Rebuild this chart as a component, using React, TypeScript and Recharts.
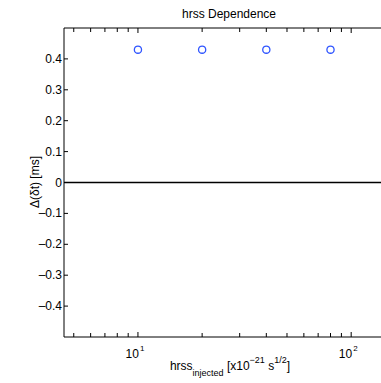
import { ScatterChart, Scatter, XAxis, YAxis, ReferenceLine } from 'recharts';

const HRSS = [10, 20, 40, 80];
const DELTA_T = [0.43, 0.43, 0.43, 0.43];
const X_TICKS = [5, 6, 7, 8, 9, 10, 20, 30, 40, 50, 60, 70, 80, 90, 100];
const X_MAJOR = [10, 100];
const Y_TICKS = [-0.4, -0.3, -0.2, -0.1, 0, 0.1, 0.2, 0.3, 0.4];

const W = 381;
const H = 383;
const TOP = 28;
const BOTTOM = 46;
const LEFT = 64;
const PLOT_H = H - TOP - BOTTOM;

const FONT = 'Arial, "Liberation Sans", sans-serif';

const points = HRSS.map((h, i) => ({ x: h, y: DELTA_T[i] }));

const fmtY = (v: number) => {
  if (v === 0) return '0';
  const s = Math.abs(v).toFixed(1);
  return v < 0 ? '\u2013' + s : s;
};

// bottom ticks point up into the plot; the matching top ticks are drawn here too
const BottomTick = (props: any) => {
  const { x, y, payload } = props;
  const major = X_MAJOR.includes(payload.value);
  const len = major ? 5 : 4;
  return (
    <g>
      <line x1={x} x2={x} y1={y} y2={y - len} stroke="#000" />
      <line x1={x} x2={x} y1={y - PLOT_H} y2={y - PLOT_H + len} stroke="#000" />
      {major && (
        <text x={x - 3} y={y + 21} textAnchor="middle" fontSize={12} fontFamily={FONT} fill="#000">
          10
          <tspan dx={1} dy={-7} fontSize={8}>
            {Math.round(Math.log10(payload.value))}
          </tspan>
        </text>
      )}
    </g>
  );
};

const LeftTick = (props: any) => {
  const { x, y, payload } = props;
  return (
    <g>
      <line x1={x} x2={x + 4} y1={y} y2={y} stroke="#000" />
      <text x={x - 2} y={y + 4} textAnchor="end" fontSize={12} fontFamily={FONT} fill="#000">
        {fmtY(payload.value)}
      </text>
    </g>
  );
};

const Ring = (props: any) => (
  <circle cx={props.cx} cy={props.cy} r={3.6} fill="none" stroke="#2f55ff" strokeWidth={1.3} />
);

export default function App() {
  return (
    <div style={{ position: 'absolute', left: 0, top: 0, width: W, height: H, background: '#fff' }}>
      <ScatterChart width={W} height={H} margin={{ top: 0, right: 0, bottom: 0, left: 0 }}>
        <XAxis
          dataKey="x"
          type="number"
          scale="log"
          domain={[4.5, 138]}
          allowDataOverflow
          ticks={X_TICKS}
          interval={0}
          height={BOTTOM}
          tickSize={0}
          tickMargin={0}
          tick={<BottomTick />}
          axisLine={{ stroke: '#000' }}
          tickLine={false}
          label={{
            position: 'bottom',
            content: () => (
              <text x={230} y={370} textAnchor="middle" fontSize={12} fontFamily={FONT} fill="#000">
                hrss
                <tspan dy={6} fontSize={9}>injected</tspan>
                <tspan dy={-6}> [x10</tspan>
                <tspan dy={-7} fontSize={9}>{'\u221221'}</tspan>
                <tspan dy={7}> s</tspan>
                <tspan dy={-7} fontSize={9}>1/2</tspan>
                <tspan dy={7}>]</tspan>
              </text>
            ),
          }}
        />
        <XAxis
          xAxisId="top"
          orientation="top"
          type="number"
          scale="log"
          domain={[4.5, 138]}
          allowDataOverflow
          height={TOP}
          tick={false}
          axisLine={{ stroke: '#000' }}
          tickLine={false}
        />
        <YAxis
          dataKey="y"
          type="number"
          domain={[-0.5, 0.5]}
          allowDataOverflow
          ticks={Y_TICKS}
          interval={0}
          width={LEFT}
          tickSize={0}
          tickMargin={0}
          tick={<LeftTick />}
          axisLine={{ stroke: '#000' }}
          tickLine={false}
          label={{
            position: 'left',
            content: () => (
              <text
                x={39}
                y={182}
                transform="rotate(-90 39 182)"
                textAnchor="middle"
                fontSize={12}
                fontFamily={FONT}
                fill="#000"
              >
                {'\u0394(\u03b4t) [ms]'}
              </text>
            ),
          }}
        />
        <ReferenceLine y={0} stroke="#000" strokeWidth={1.5} />
        <Scatter data={points} shape={<Ring />} isAnimationActive={false} />
        <text x={229} y={18} textAnchor="middle" fontSize={12} fontFamily={FONT} fill="#000">
          hrss Dependence
        </text>
      </ScatterChart>
    </div>
  );
}
